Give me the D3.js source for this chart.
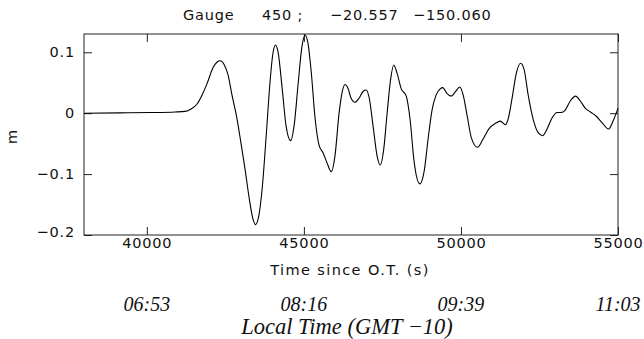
<!DOCTYPE html>
<html>
<head>
<meta charset="utf-8">
<script src="https://cdn.jsdelivr.net/npm/d3@7"></script>
<style>
  body { margin: 0; background: #fff; }
  svg { display: block; }
</style>
</head>
<body>
<script>
//Variables
const width = 644;
const height = 339;
const margin = { top: 34, right: 26, bottom: 104, left: 84 };

//Data (time since O.T. in s, sea level in m)
const times = [38000, 39150, 40100, 40900, 41220, 41410, 41600, 41760, 41920, 42110, 42240, 42330,
  42460, 42590, 42710, 42860, 43000, 43130, 43260, 43370, 43460, 43560, 43670, 43810, 43920,
  44020, 44100, 44180, 44310, 44430, 44580, 44690, 44820, 44940, 45040, 45130, 45230, 45360,
  45480, 45610, 45740, 45870, 45990, 46120, 46220, 46310, 46410, 46500, 46630, 46760, 46890,
  46980, 47080, 47200, 47330, 47430, 47540, 47650, 47760, 47860, 47970, 48100, 48260, 48380,
  48510, 48690, 48830, 48960, 49080, 49210, 49340, 49420, 49560, 49690, 49820, 49960, 50070,
  50200, 50330, 50530, 50710, 50900, 51090, 51250, 51420, 51500, 51630, 51760, 51900, 52010,
  52140, 52300, 52460, 52600, 52750, 52900, 53060, 53190, 53320, 53480, 53650, 53800, 53960,
  54120, 54310, 54500, 54700, 54850, 55000];
const level = [0, 0.0005, 0.001, 0.002, 0.003, 0.007, 0.015, 0.03, 0.049, 0.075, 0.084, 0.086,
  0.08, 0.062, 0.03, -0.006, -0.05, -0.093, -0.14, -0.172, -0.183, -0.17, -0.125, -0.03, 0.05,
  0.1, 0.112, 0.1, 0.04, -0.02, -0.045, -0.02, 0.05, 0.11, 0.128, 0.115, 0.07, -0.01,
  -0.052, -0.065, -0.082, -0.096, -0.07, 0, 0.035, 0.047, 0.04, 0.025, 0.018, 0.025, 0.036,
  0.038, 0.025, -0.02, -0.07, -0.085, -0.06, 0, 0.055, 0.079, 0.065, 0.04, 0.028, -0.01,
  -0.08, -0.116, -0.095, -0.04, 0.005, 0.03, 0.04, 0.042, 0.032, 0.028, 0.035, 0.043, 0.03,
  -0.005, -0.04, -0.056, -0.042, -0.025, -0.017, -0.013, -0.019, -0.01, 0.025, 0.065, 0.082, 0.072,
  0.03, -0.01, -0.032, -0.037, -0.025, -0.008, 0.001, 0.001, 0.005, 0.02, 0.028, 0.02, 0.008,
  0.002, -0.005, -0.016, -0.026, -0.012, 0.008];

//Ticks
const xTicks = [40000, 45000, 50000, 55000];
const yTicks = [0.1, 0, -0.1, -0.2];
const localTimes = ["06:53", "08:16", "09:39", "11:03"];
const titleParts = ["Gauge", "450 ;", "\u221220.557", "\u2212150.060"];
const titleX = [183, 262, 330, 413];

const data = times.map((t, i) => ({ t: t, v: level[i] }));

//SVG creation
const svg = d3.select("body")
  .append("svg")
  .attr("width", width)
  .attr("height", height)
  .style("background-color", "#fff");

const x = d3.scaleLinear()
  .domain([38000, 55000])
  .range([margin.left, width - margin.right]);

const y = d3.scaleLinear()
  .domain([-0.2, 0.13])
  .range([height - margin.bottom, margin.top]);

const sans = "DejaVu Sans, sans-serif";
const serif = "Liberation Serif, Times New Roman, serif";
const sansSize = "14.5px";
const spacing = "0.8px";

//Axes (ticks pointing inward)
const fmtY = d => d === 0 ? "0" : d3.format(".1f")(d).replace("-", "\u2212");

const styleAxis = g => {
  g.select(".domain").remove();
  g.selectAll(".tick line").attr("stroke", "#222").attr("stroke-width", 1);
  g.selectAll(".tick text").attr("fill", "#111")
    .style("font-family", sans).style("font-size", sansSize).style("letter-spacing", spacing);
};

svg.append("g")
  .attr("transform", `translate(0, ${height - margin.bottom})`)
  .call(d3.axisBottom(x).tickValues(xTicks).tickSize(-8).tickPadding(3).tickFormat(d3.format("d")))
  .call(styleAxis);

svg.append("g")
  .attr("transform", `translate(0, ${margin.top})`)
  .call(d3.axisTop(x).tickValues(xTicks).tickSize(-8).tickFormat(""))
  .call(styleAxis);

svg.append("g")
  .attr("transform", `translate(${margin.left}, 0)`)
  .call(d3.axisLeft(y).tickValues(yTicks).tickSize(-8).tickPadding(9).tickFormat(fmtY))
  .call(styleAxis);

svg.append("g")
  .attr("transform", `translate(${width - margin.right}, 0)`)
  .call(d3.axisRight(y).tickValues(yTicks).tickSize(-8).tickFormat(""))
  .call(styleAxis);

//-0.2 label sits a bit higher in the original
svg.selectAll(".tick text").filter(d => d === -0.2).attr("dy", "0.1em");

//Frame
svg.append("rect")
  .attr("x", margin.left)
  .attr("y", margin.top)
  .attr("width", width - margin.left - margin.right)
  .attr("height", height - margin.top - margin.bottom)
  .attr("fill", "none")
  .attr("stroke", "#222")
  .attr("stroke-width", 1);

//Line
const line = d3.line()
  .x(d => x(d.t))
  .y(d => y(d.v))
  .curve(d3.curveMonotoneX);

svg.append("path")
  .datum(data)
  .attr("d", line)
  .attr("fill", "none")
  .attr("stroke", "#000")
  .attr("stroke-width", 1.1);

//Title
svg.append("g")
  .selectAll("text")
  .data(titleParts)
  .join("text")
  .attr("x", (d, i) => titleX[i])
  .attr("y", 20)
  .style("font-family", sans)
  .style("font-size", sansSize)
  .style("letter-spacing", spacing)
  .attr("fill", "#111")
  .text(d => d);

//Y label
svg.append("text")
  .attr("transform", "translate(17, 137) rotate(-90)")
  .attr("text-anchor", "middle")
  .style("font-family", sans)
  .style("font-size", sansSize)
  .attr("fill", "#111")
  .text("m");

//X label
svg.append("text")
  .attr("x", 350)
  .attr("y", 275)
  .attr("text-anchor", "middle")
  .style("font-family", sans)
  .style("font-size", sansSize)
  .style("letter-spacing", "1.4px")
  .attr("fill", "#111")
  .text("Time since O.T. (s)");

//Local time labels
svg.append("g")
  .selectAll("text")
  .data(localTimes)
  .join("text")
  .attr("x", (d, i) => x(xTicks[i]))
  .attr("y", 311)
  .attr("text-anchor", "middle")
  .style("font-family", serif)
  .style("font-style", "italic")
  .style("font-size", "20px")
  .attr("fill", "#111")
  .text(d => d);

svg.append("text")
  .attr("x", 347)
  .attr("y", 334)
  .attr("text-anchor", "middle")
  .style("font-family", serif)
  .style("font-style", "italic")
  .style("font-size", "22.5px")
  .attr("fill", "#111")
  .text("Local Time (GMT \u221210)");
</script>
</body>
</html>
